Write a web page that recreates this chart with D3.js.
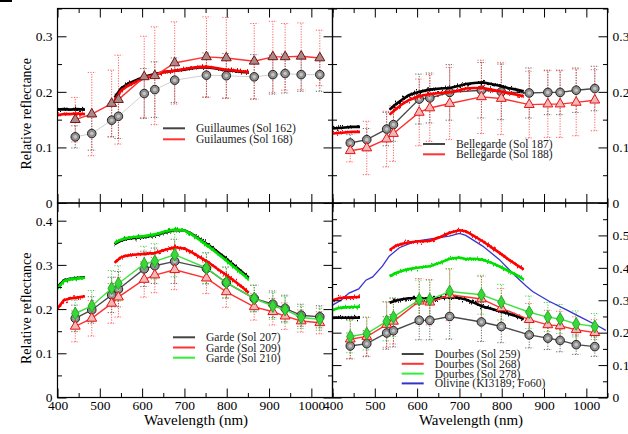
<html>
<head>
<script src="https://d3js.org/d3.v7.min.js"></script>
<style>
  body { margin: 0; background: #fff; }
  text { font-family: "Liberation Serif", "Times New Roman", "Nimbus Roman", "Noto Serif", "DejaVu Serif", serif; }
</style>
</head>
<body>
<svg id="chart" width="628" height="434"></svg>
<script>
// filter (band) wavelengths, nm
const filterNm = [442, 481, 528, 544, 605, 630, 677, 752, 799, 865, 909, 938, 976, 1020];
// spectrometer sampling used for the continuous traces
const specNm1 = [400, 415, 430, 445, 465];
const specNm2 = [535, 550, 565, 580, 605, 630, 655, 677, 700, 715, 735, 755, 775, 795, 815, 835, 852];

// tick labels
const xMajor = [400, 500, 600, 700, 800, 900, 1000];
const xMinor = [450, 550, 650, 750, 850, 950, 1050];

// Guillaumes
const guil162Spec1 = [0.168, 0.169, 0.168, 0.169, 0.168];
const guil162Spec2 = [0.190, 0.206, 0.214, 0.219, 0.227, 0.232, 0.236, 0.238, 0.240, 0.242, 0.244, 0.244, 0.242, 0.239, 0.238, 0.236, 0.235];
const guil168Spec1 = [0.158, 0.160, 0.160, 0.161, 0.160];
const guil168Spec2 = [0.185, 0.202, 0.210, 0.216, 0.225, 0.231, 0.236, 0.238, 0.241, 0.243, 0.245, 0.245, 0.243, 0.240, 0.239, 0.237, 0.236];
const guil162Pts = [0.119, 0.125, 0.149, 0.156, 0.197, 0.204, 0.221, 0.230, 0.229, 0.227, 0.231, 0.233, 0.231, 0.231];
const guil162Err = [0.02, 0.03, 0.03, 0.04, 0.045, 0.05, 0.04, 0.04, 0.04, 0.04, 0.035, 0.035, 0.03, 0.03];
const guil168Pts = [0.150, 0.160, 0.179, 0.186, 0.227, 0.229, 0.252, 0.263, 0.261, 0.255, 0.263, 0.263, 0.264, 0.261];
const guil168Err = [0.04, 0.075, 0.06, 0.08, 0.073, 0.088, 0.074, 0.072, 0.073, 0.068, 0.064, 0.06, 0.06, 0.05];

// Bellegarde
const bell187Spec1 = [0.134, 0.135, 0.136, 0.137, 0.137];
const bell187Spec2 = [0.168, 0.178, 0.186, 0.194, 0.200, 0.204, 0.206, 0.207, 0.211, 0.214, 0.216, 0.217, 0.214, 0.211, 0.207, 0.204, 0.201];
const bell188Spec1 = [0.125, 0.126, 0.127, 0.128, 0.128];
const bell188Spec2 = [0.159, 0.169, 0.178, 0.185, 0.192, 0.196, 0.198, 0.199, 0.203, 0.206, 0.207, 0.207, 0.204, 0.201, 0.198, 0.195, 0.192];
const bell187Pts = [0.108, 0.114, 0.133, 0.141, 0.187, 0.189, 0.199, 0.203, 0.200, 0.198, 0.199, 0.199, 0.203, 0.206];
const bell187Err = [0.015, 0.02, 0.03, 0.03, 0.045, 0.045, 0.05, 0.05, 0.05, 0.045, 0.04, 0.04, 0.04, 0.04];
const bell188Pts = [0.094, 0.099, 0.115, 0.125, 0.163, 0.171, 0.179, 0.191, 0.188, 0.177, 0.178, 0.178, 0.181, 0.185];
const bell188Err = [0.02, 0.048, 0.05, 0.05, 0.06, 0.06, 0.065, 0.066, 0.065, 0.06, 0.06, 0.06, 0.06, 0.055];

// Garde
const garde207Spec1 = [0.250, 0.265, 0.268, 0.270, 0.272];
const garde207Spec2 = [0.347, 0.355, 0.359, 0.361, 0.363, 0.367, 0.374, 0.379, 0.378, 0.371, 0.359, 0.346, 0.332, 0.317, 0.301, 0.285, 0.271];
const garde209Spec1 = [0.2015, 0.220, 0.224, 0.226, 0.229];
const garde209Spec2 = [0.305, 0.317, 0.321, 0.323, 0.325, 0.327, 0.334, 0.340, 0.337, 0.330, 0.318, 0.307, 0.293, 0.280, 0.266, 0.251, 0.237];
const garde210Spec1 = [0.247, 0.263, 0.267, 0.269, 0.271];
const garde210Spec2 = [0.349, 0.357, 0.361, 0.363, 0.365, 0.369, 0.376, 0.380, 0.378, 0.370, 0.357, 0.343, 0.328, 0.313, 0.297, 0.281, 0.267];
const garde207Pts = [0.179, 0.198, 0.232, 0.245, 0.291, 0.298, 0.308, 0.292, 0.260, 0.224, 0.211, 0.2015, 0.186, 0.1825];
const garde207Err = [0.03, 0.03, 0.04, 0.04, 0.04, 0.04, 0.05, 0.035, 0.035, 0.03, 0.03, 0.03, 0.025, 0.025];
const garde209Pts = [0.161, 0.179, 0.213, 0.227, 0.267, 0.277, 0.289, 0.270, 0.239, 0.205, 0.194, 0.184, 0.173, 0.169];
const garde209Err = [0.035, 0.04, 0.045, 0.045, 0.04, 0.04, 0.045, 0.035, 0.035, 0.03, 0.03, 0.03, 0.025, 0.025];
const garde210Pts = [0.190, 0.207, 0.247, 0.258, 0.302, 0.308, 0.323, 0.293, 0.260, 0.224, 0.207, 0.199, 0.181, 0.177];
const garde210Err = [0.03, 0.035, 0.04, 0.04, 0.04, 0.04, 0.05, 0.035, 0.035, 0.03, 0.03, 0.03, 0.025, 0.025];

// Dourbes + olivine lab spectrum
const dour259Spec1 = [0.245, 0.247, 0.246, 0.247, 0.246];
const dour259Spec2 = [0.292, 0.299, 0.303, 0.306, 0.306, 0.304, 0.307, 0.310, 0.307, 0.302, 0.292, 0.281, 0.274, 0.266, 0.259, 0.251, 0.242];
const dour268Spec1 = [0.300, 0.306, 0.308, 0.309, 0.310];
const dour268Spec2 = [0.455, 0.468, 0.474, 0.478, 0.482, 0.483, 0.495, 0.508, 0.516, 0.513, 0.498, 0.482, 0.464, 0.446, 0.427, 0.409, 0.395];
const dour278Spec1 = [0.270, 0.276, 0.278, 0.279, 0.280];
const dour278Spec2 = [0.374, 0.384, 0.391, 0.396, 0.401, 0.405, 0.416, 0.428, 0.432, 0.427, 0.428, 0.425, 0.416, 0.404, 0.391, 0.378, 0.364];
const olivineNm = [400, 420, 439, 462, 479, 495, 518, 534, 558, 597, 636, 676, 700, 715, 755, 794, 833, 857, 873, 912, 952, 991, 1030, 1046];
const olivineRefl = [0.285, 0.300, 0.322, 0.335, 0.362, 0.372, 0.405, 0.436, 0.462, 0.482, 0.490, 0.498, 0.506, 0.500, 0.467, 0.426, 0.374, 0.345, 0.327, 0.297, 0.271, 0.245, 0.219, 0.207];
const dour259Pts = [0.159, 0.166, 0.199, 0.206, 0.238, 0.238, 0.250, 0.233, 0.219, 0.193, 0.183, 0.176, 0.163, 0.157];
const dour259Err = [0.04, 0.04, 0.05, 0.05, 0.06, 0.06, 0.07, 0.06, 0.05, 0.04, 0.035, 0.035, 0.03, 0.03];
const dour268Pts = [0.180, 0.188, 0.225, 0.235, 0.297, 0.294, 0.317, 0.304, 0.276, 0.240, 0.224, 0.221, 0.209, 0.200];
const dour268Err = [0.06, 0.06, 0.07, 0.07, 0.07, 0.07, 0.08, 0.07, 0.06, 0.05, 0.045, 0.045, 0.04, 0.04];
const dour278Pts = [0.188, 0.197, 0.235, 0.248, 0.302, 0.302, 0.327, 0.317, 0.294, 0.263, 0.248, 0.242, 0.227, 0.219];
const dour278Err = [0.05, 0.05, 0.06, 0.06, 0.06, 0.06, 0.07, 0.06, 0.055, 0.05, 0.045, 0.045, 0.04, 0.04];

const W = 628, H = 434;
const svg = d3.select("#chart");
svg.append("rect").attr("width", W).attr("height", H).attr("fill", "#fff");
svg.append("rect").attr("x", 0).attr("y", 0).attr("width", 12).attr("height", 2).attr("fill", "#000");

const defs = svg.append("defs");
// jitter filter so the spectrometer traces look noisy
const jit = defs.append("filter").attr("id", "jitter").attr("filterUnits", "userSpaceOnUse")
    .attr("x", 0).attr("y", 0).attr("width", W).attr("height", H);
jit.append("feTurbulence").attr("type", "fractalNoise").attr("baseFrequency", "0.8 0.015")
    .attr("numOctaves", 2).attr("seed", 4).attr("result", "t");
jit.append("feComponentTransfer").attr("in", "t").attr("result", "t2")
    .append("feFuncR").attr("type", "linear").attr("slope", 0).attr("intercept", 0.5);
jit.append("feDisplacementMap").attr("in", "SourceGraphic").attr("in2", "t2").attr("scale", 10)
    .attr("xChannelSelector", "R").attr("yChannelSelector", "G");

const BLACK = {spec: "#000", line: "#4a4a4a", errCol: "#444", leg: "#444", mark: "circle"};
const RED = {spec: "#ff0000", line: "#ff3030", errCol: "#ff3a3a", leg: "#ff3333", mark: "tri"};
const GREEN = {spec: "#00e000", line: "#3ee23e", errCol: "#30c030", leg: "#33ee33", mark: "dia"};

const panels = [
  {id: "tl", left: 57.5, bottom: 203, yMax: 0.35, side: "left", xLabels: false,
   yTicks: [0, 0.1, 0.2, 0.3], yMinor: [0.05, 0.15, 0.25, 0.35], specOnTop: false,
   series: [
     Object.assign({}, BLACK, {s1: guil162Spec1, s2: guil162Spec2, pts: guil162Pts, err: guil162Err, line: "#cfcfcf", lw: 1}),
     Object.assign({}, RED, {s1: guil168Spec1, s2: guil168Spec2, pts: guil168Pts, err: guil168Err, triFill: "#a88a8a", triStroke: "#7a1010"})],
   legend: {x: 163, y: 128.3, dy: 11, names: ["Guillaumes (Sol 162)", "Guilaumes (Sol 168)"]}},
  {id: "tr", left: 332.5, bottom: 203, yMax: 0.35, side: "right", xLabels: false,
   yTicks: [0, 0.1, 0.2, 0.3], yMinor: [0.05, 0.15, 0.25, 0.35], specOnTop: true,
   series: [
     Object.assign({}, BLACK, {s1: bell187Spec1, s2: bell187Spec2, pts: bell187Pts, err: bell187Err}),
     Object.assign({}, RED, {s1: bell188Spec1, s2: bell188Spec2, pts: bell188Pts, err: bell188Err})],
   legend: {x: 423, y: 144, dy: 10.3, names: ["Bellegarde (Sol 187)", "Bellegarde (Sol 188)"]}},
  {id: "bl", left: 57.5, bottom: 397.5, yMax: 0.44, side: "left", xLabels: true,
   yTicks: [0, 0.1, 0.2, 0.3, 0.4], yMinor: [0.05, 0.15, 0.25, 0.35], specOnTop: false,
   series: [
     Object.assign({}, BLACK, {s1: garde207Spec1, s2: garde207Spec2, pts: garde207Pts, err: garde207Err}),
     Object.assign({}, RED, {s1: garde209Spec1, s2: garde209Spec2, pts: garde209Pts, err: garde209Err}),
     Object.assign({}, GREEN, {s1: garde210Spec1, s2: garde210Spec2, pts: garde210Pts, err: garde210Err})],
   legend: {x: 173, y: 337.3, dy: 10.2, names: ["Garde (Sol 207)", "Garde (Sol 209)", "Garde (Sol 210)"]}},
  {id: "br", left: 332.5, bottom: 397.5, yMax: 0.6, side: "right", xLabels: true,
   yTicks: [0, 0.1, 0.2, 0.3, 0.4, 0.5], yMinor: [0.05, 0.15, 0.25, 0.35, 0.45, 0.55], specOnTop: false,
   olivine: true,
   series: [
     Object.assign({}, BLACK, {s1: dour259Spec1, s2: dour259Spec2, pts: dour259Pts, err: dour259Err}),
     Object.assign({}, RED, {s1: dour268Spec1, s2: dour268Spec2, pts: dour268Pts, err: dour268Err}),
     Object.assign({}, GREEN, {s1: dour278Spec1, s2: dour278Spec2, pts: dour278Pts, err: dour278Err})],
   legend: {x: 401.7, y: 354, dy: 9.8, names: ["Dourbes (Sol 259)", "Dourbes (Sol 268)", "Dourbes (Sol 278)", "Olivine (KI3189; Fo60)"]}}
];

const PW = 275, PH = 194.5;
const FONT = '"Liberation Serif", "Times New Roman", "Nimbus Roman", "Noto Serif", "DejaVu Serif", serif';

function styleAxis(g, size) {
  g.select(".domain").remove();
  g.selectAll("line").attr("stroke", "#000").attr("stroke-width", 1);
  g.selectAll("text").attr("font-family", FONT).attr("font-size", size).attr("fill", "#000");
}

panels.forEach(p => {
  const x = d3.scaleLinear().domain([400, 1050]).range([p.left, p.left + PW]);
  const y = d3.scaleLinear().domain([0, p.yMax]).range([p.bottom, p.bottom - PH]);
  const top = p.bottom - PH;

  defs.append("clipPath").attr("id", "clip-" + p.id).append("rect")
      .attr("x", p.left).attr("y", top).attr("width", PW).attr("height", PH);

  const plot = svg.append("g").attr("clip-path", `url(#clip-${p.id})`);
  const line = d3.line().x(d => x(d[0])).y(d => y(d[1]));

  // dotted error bars with dotted caps
  const errG = plot.append("g");
  p.series.forEach(s => {
    filterNm.forEach((nm, i) => {
      const lo = y(s.pts[i] - s.err[i]), hi = y(s.pts[i] + s.err[i]), cx = x(nm);
      const eg = errG.append("g").attr("stroke", s.errCol).attr("stroke-width", 1)
          .attr("stroke-dasharray", "1.2,1.4").attr("opacity", 0.8);
      eg.append("line").attr("x1", cx).attr("x2", cx).attr("y1", lo).attr("y2", hi);
      eg.append("line").attr("x1", cx - 4).attr("x2", cx + 4).attr("y1", lo).attr("y2", lo);
      eg.append("line").attr("x1", cx - 4).attr("x2", cx + 4).attr("y1", hi).attr("y2", hi);
    });
  });

  if (p.olivine) {
    plot.append("path").attr("d", line(olivineNm.map((nm, i) => [nm, olivineRefl[i]])))
        .attr("fill", "none").attr("stroke", "#3535d0").attr("stroke-width", 1.3);
  }

  function drawSpectra() {
    p.series.forEach(s => {
      [[specNm1, s.s1], [specNm2, s.s2]].forEach(([nms, vals]) => {
        const d = line(nms.map((nm, i) => [nm, vals[i]]));
        plot.append("path").attr("d", d).attr("fill", "none")
            .attr("stroke", s.spec).attr("stroke-width", 2.6);
        plot.append("path").attr("d", d).attr("fill", "none").attr("filter", "url(#jitter)")
            .attr("stroke", s.spec).attr("stroke-width", 1.3);
      });
    });
  }

  function drawPoints() {
    p.series.forEach(s => {
      plot.append("path").attr("d", line(filterNm.map((nm, i) => [nm, s.pts[i]])))
          .attr("fill", "none").attr("stroke", s.line).attr("stroke-width", s.lw || 1.4);
      const mg = plot.append("g");
      filterNm.forEach((nm, i) => {
        const cx = x(nm), cy = y(s.pts[i]);
        if (s.mark === "circle") {
          mg.append("circle").attr("cx", cx).attr("cy", cy).attr("r", 4.3)
              .attr("fill", "#8e8e8e").attr("stroke", "#222").attr("stroke-width", 1);
          mg.append("circle").attr("cx", cx).attr("cy", cy).attr("r", 1.8).attr("fill", "#c4c4c4");
        } else if (s.mark === "tri") {
          mg.append("path").attr("d", d3.symbol(d3.symbolTriangle, 42)())
              .attr("transform", `translate(${cx},${cy})`)
              .attr("fill", s.triFill || "#f2b8b8").attr("stroke", s.triStroke || "#e81010").attr("stroke-width", 1);
        } else {
          mg.append("path").attr("d", d3.symbol(d3.symbolDiamond, 48)())
              .attr("transform", `translate(${cx},${cy})`)
              .attr("fill", "#38d838").attr("stroke", "#1a9a1a").attr("stroke-width", 0.8);
        }
      });
    });
  }

  if (p.specOnTop) { drawPoints(); drawSpectra(); } else { drawSpectra(); drawPoints(); }

  // frame
  svg.append("rect").attr("x", p.left).attr("y", top).attr("width", PW).attr("height", PH)
      .attr("fill", "none").attr("stroke", "#000").attr("stroke-width", 1.2);

  // x ticks (inward, all four sides)
  styleAxis(svg.append("g").attr("transform", `translate(0,${p.bottom})`)
      .call(d3.axisBottom(x).tickValues(xMajor).tickSize(-9).tickPadding(3)
          .tickFormat(p.xLabels ? d => d : "")), 13.5);
  styleAxis(svg.append("g").attr("transform", `translate(0,${p.bottom})`)
      .call(d3.axisBottom(x).tickValues(xMinor).tickSize(-4.5).tickFormat("")), 13.5);
  styleAxis(svg.append("g").attr("transform", `translate(0,${top})`)
      .call(d3.axisTop(x).tickValues(xMajor).tickSize(-9).tickFormat("")), 13.5);
  styleAxis(svg.append("g").attr("transform", `translate(0,${top})`)
      .call(d3.axisTop(x).tickValues(xMinor).tickSize(-4.5).tickFormat("")), 13.5);

  // y ticks
  const fmt = d => String(d);
  const leftLab = p.side === "left";
  styleAxis(svg.append("g").attr("transform", `translate(${p.left},0)`)
      .call(d3.axisLeft(y).tickValues(p.yTicks).tickSize(-9).tickPadding(5).tickFormat(leftLab ? fmt : "")), 13.5);
  styleAxis(svg.append("g").attr("transform", `translate(${p.left},0)`)
      .call(d3.axisLeft(y).tickValues(p.yMinor).tickSize(-4.5).tickFormat("")), 13.5);
  styleAxis(svg.append("g").attr("transform", `translate(${p.left + PW},0)`)
      .call(d3.axisRight(y).tickValues(p.yTicks).tickSize(-9).tickPadding(5).tickFormat(leftLab ? "" : fmt)), 13.5);
  styleAxis(svg.append("g").attr("transform", `translate(${p.left + PW},0)`)
      .call(d3.axisRight(y).tickValues(p.yMinor).tickSize(-4.5).tickFormat("")), 13.5);

  // legend
  const cols = p.series.map(s => s.leg);
  if (p.olivine) cols.push("#3333cc");
  const lg = svg.append("g");
  p.legend.names.forEach((name, i) => {
    const ly = p.legend.y + i * p.legend.dy;
    lg.append("line").attr("x1", p.legend.x).attr("x2", p.legend.x + 22).attr("y1", ly).attr("y2", ly)
        .attr("stroke", cols[i]).attr("stroke-width", 2);
    lg.append("text").attr("x", p.legend.x + 33).attr("y", ly + 4).attr("font-size", 11.6)
        .attr("fill", "#222").text(name);
  });

  if (p.xLabels) {
    svg.append("text").attr("x", p.left + PW / 2 + 1).attr("y", 425).attr("text-anchor", "middle")
        .attr("font-size", 15).text("Wavelength (nm)");
  }
  if (p.side === "left") {
    svg.append("text").attr("transform", `translate(31,${top + PH / 2 + 8}) rotate(-90)`)
        .attr("text-anchor", "middle").attr("font-size", 14).text("Relative reflectance");
  }
});
</script>
</body>
</html>
